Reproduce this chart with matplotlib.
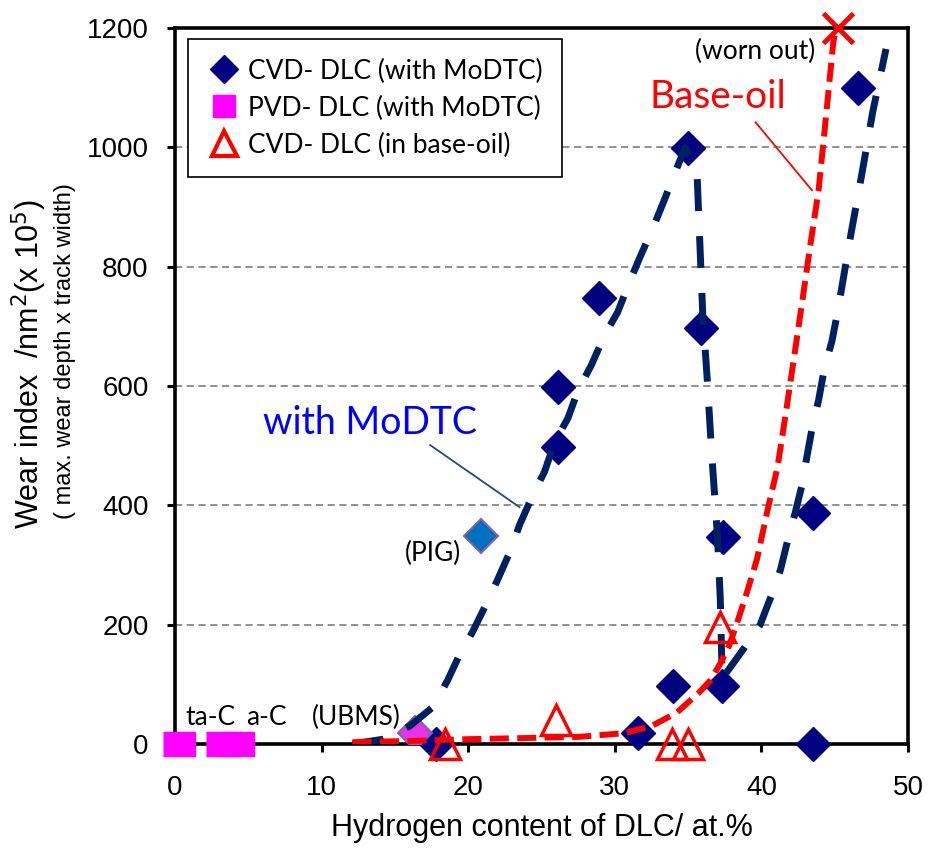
import matplotlib
matplotlib.use("Agg")
import matplotlib.pyplot as plt
from matplotlib.lines import Line2D

# Daten
cvd_x = [17.8, 31.6, 34.0, 37.3, 43.5, 43.5, 46.6, 35.0, 35.9, 37.4, 28.9, 26.1, 26.1]
cvd_y = [0, 18, 97, 97, 0, 387, 1099, 999, 697, 347, 747, 598, 498]
pig_x = [20.9]
pig_y = [349]
ubms_x = [16.4]
ubms_y = [18]
pvd_x = [0.3, 3.2, 4.3]
pvd_y = [0, 0, 0]
base_x = [18.4, 26.0, 33.9, 35.0, 37.2]
base_y = [0, 40, 0, 0, 196]
worn_x = [45.2]
worn_y = [1200]

# Trendkurven
fit1_x = [12.1, 14.2, 16.0, 17.6, 18.6, 19.4, 20.3, 21.3, 22.0, 22.9, 23.5, 24.4, 25.2,
          25.9, 26.8, 27.5, 28.4, 29.3, 30.2, 31.0, 31.7, 32.6, 33.3, 34.1, 34.8,
          35.6, 35.8, 36.0, 36.3, 36.6, 37.0, 37.2, 37.3]
fit1_y = [0, 8, 30, 62, 107, 149, 188, 238, 275, 325, 367, 417, 456,
          506, 546, 593, 635, 685, 724, 774, 815, 865, 907, 957, 1000,
          962, 840, 720, 613, 490, 350, 240, 135]
fit2_x = [37.6, 38.8, 39.9, 40.7, 41.3, 41.8, 42.3, 42.8, 43.1, 43.5, 43.9, 44.3,
          44.8, 45.2, 46.0, 46.9, 47.6, 48.5]
fit2_y = [119, 160, 199, 250, 292, 342, 387, 437, 481, 535, 576, 630,
          674, 724, 840, 962, 1060, 1165]
oil_x = [12.1, 16.0, 20.0, 24.0, 27.6, 30.6, 32.5, 34.2, 35.7, 36.5, 37.2, 37.8, 38.3,
         39.0, 39.7, 40.4, 41.1, 41.7, 42.3, 42.8, 43.3, 43.9, 44.4, 44.9, 45.1]
oil_y = [3, 5, 8, 10, 12, 18, 30, 52, 85, 106, 135, 165, 200,
         253, 310, 390, 464, 560, 660, 744, 830, 928, 1050, 1175, 1200]

x_ticks = [0, 10, 20, 30, 40, 50]
y_ticks = [0, 200, 400, 600, 800, 1000, 1200]

navy = "#000080"
navy_line = "#002060"
red = "#FF0000"
magenta = "#FF00FF"
note_font = ["Lato", "DejaVu Sans"]

plt.rcParams["font.family"] = ["Liberation Sans", "DejaVu Sans"]

fig = plt.figure(figsize=(9.33, 8.52), dpi=100)
ax = fig.add_axes([0.1876, 0.1268, 0.7856, 0.8403])

# Gitterlinien
ax.set_axisbelow(True)
ax.yaxis.grid(True, color="#878787", lw=1.3, ls=(0, (4, 2.5)))

# Punkte
ax.plot(pvd_x, pvd_y, ls="none", marker=[(-1, -0.75), (1, -0.75), (1, 0.75), (-1, 0.75)],
        ms=23, color=magenta, mec=magenta, clip_on=False, zorder=3)
ax.plot(cvd_x, cvd_y, ls="none", marker="D", ms=17, color=navy, mec=navy,
        clip_on=False, zorder=3)
ax.plot(pig_x, pig_y, ls="none", marker="D", ms=17, color="#0070C0", mec="#8064A2",
        mew=1.5, zorder=3)
ax.plot(ubms_x, ubms_y, ls="none", marker="D", ms=17, color="#E633E6", mec="#8064A2",
        mew=1.5, zorder=3)

# Kurven
l1, = ax.plot(fit1_x, fit1_y, color=navy_line, lw=5, zorder=4)
l1.set_dashes([4.6, 3.6])
l2, = ax.plot(fit2_x, fit2_y, color=navy_line, lw=5, zorder=4)
l2.set_dashes([4.6, 3.6])
l3, = ax.plot(oil_x, oil_y, color=red, lw=4.3, zorder=5)
l3.set_dashes([3.2, 1.4])

ax.plot(base_x, base_y, ls="none", marker="^", ms=22, mfc="none", mec=red, mew=2.5,
        clip_on=False, zorder=6)
ax.plot(worn_x, worn_y, ls="none", marker="x", ms=21, mec=red, mew=3.5,
        clip_on=False, zorder=7)

# Achsen
ax.set_xlim(0, 50)
ax.set_ylim(0, 1200)
ax.set_xticks(x_ticks)
ax.set_yticks(y_ticks)
for s in ax.spines.values():
    s.set_linewidth(2.6)
ax.tick_params(direction="out", length=6, width=2.2, labelsize=20)
ax.tick_params(axis="x", pad=16)
ax.tick_params(axis="y", pad=13)

ax.set_xlabel("Hydrogen content of DLC/ at.%", fontsize=22, labelpad=9)
fig.text(0.031, 0.573, r"Wear index  /nm$^{2}$(x 10$^{5}$)", rotation=90,
         ha="center", va="center", fontsize=22)
fig.text(0.07, 0.588, "( max. wear depth x track width)", rotation=90,
         ha="center", va="center", fontsize=17)

# Beschriftungen
ax.text(13.3, 538, "with MoDTC", color="#0000FF", fontsize=27, family=note_font,
        ha="center", va="center")
ax.plot([17.4, 23.5], [501, 397], color="#1F4E79", lw=1.3, zorder=2)
ax.text(37.0, 1084, "Base-oil", color=red, fontsize=28, family=note_font,
        ha="center", va="center")
ax.plot([39.6, 43.45], [1042, 928], color=red, lw=1.3, zorder=2)
ax.text(39.6, 1160, "(worn out)", fontsize=19, family=note_font, ha="center", va="center")
ax.text(17.6, 320, "(PIG)", fontsize=19, family=note_font, ha="center", va="center")
ax.text(12.35, 44, "(UBMS)", fontsize=19, family=note_font, ha="center", va="center")
ax.text(2.4, 44, "ta-C", fontsize=19, family=note_font, ha="center", va="center")
ax.text(6.2, 44, "a-C", fontsize=19, family=note_font, ha="center", va="center")

# Legende
handles = [
    Line2D([], [], ls="none", marker="D", ms=14, color=navy),
    Line2D([], [], ls="none", marker="s", ms=16, color=magenta),
    Line2D([], [], ls="none", marker="^", ms=18, mfc="none", mec=red, mew=3),
]
labels = ["CVD- DLC (with MoDTC)", "PVD- DLC (with MoDTC)", "CVD- DLC (in base-oil)"]
leg = ax.legend(handles, labels, loc="upper left", bbox_to_anchor=(0.018, 0.985),
                borderaxespad=0, prop={"family": note_font, "size": 19},
                frameon=True, fancybox=False, edgecolor="black", framealpha=1,
                handlelength=1.2, handletextpad=0.3, labelspacing=0.45, borderpad=0.75)
leg.get_frame().set_linewidth(1.2)
leg.set_zorder(10)

fig.savefig("out.png", dpi=100)
